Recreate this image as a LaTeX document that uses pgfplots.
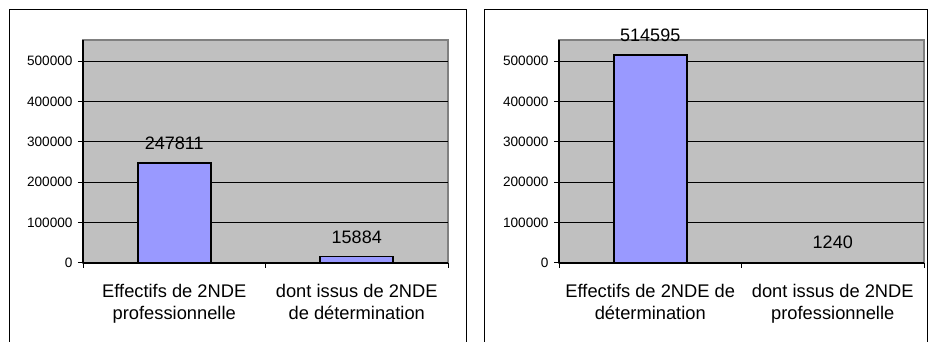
\documentclass[border=0pt]{standalone}
\usepackage{pgfplots}
\pgfplotsset{compat=1.18}
\usepackage{fontspec}
\setmainfont{Liberation Sans}
\definecolor{plotbg}{RGB}{192,192,192}
\definecolor{barfill}{RGB}{153,153,255}
\definecolor{frameg}{RGB}{128,128,128}
\pgfplotsset{
  panel/.style={
    scale only axis, width=365pt, height=223pt,
    anchor=south west,
    xmin=0, xmax=2, ymin=0, ymax=552000,
    axis lines=left, axis line style={-, black, line width=1.2pt},
    axis background/.style={fill=plotbg, draw=frameg, line width=1.5pt},
    ytick={0,100000,200000,300000,400000,500000},
    scaled y ticks=false,
    yticklabel style={font=\fontsize{13.6}{15}\selectfont, xshift=-2pt, /pgf/number format/fixed, /pgf/number format/1000 sep={}},
    /pgf/number format/assume math mode=true,
    ymajorgrids, major grid style={black, line width=0.8pt},
    xtick={0.5,1.5},
    minor xtick={0,1,2},
    major x tick style={draw=none},
    tick align=outside,
    minor tick length=5pt, major tick length=5pt,
    tick style={black, line width=1pt},
    xticklabel style={font=\fontsize{18.3}{21.7}\selectfont, align=center, inner sep=0pt, yshift=-16pt},
    ybar, bar width=0.4, bar shift=0pt,
    nodes near coords, point meta=explicit symbolic,
    nodes near coords style={font=\fontsize{18}{21}\selectfont, anchor=base, yshift=13.5pt, inner sep=0pt, black},
    clip=false,
  }
}
\begin{document}
\begin{tikzpicture}
\useasboundingbox (0,0) rectangle (929pt,342pt);
\draw[black, line width=1pt] (9pt,0pt) -- (9pt,332pt) -- (466pt,332pt) -- (466pt,0pt);
\draw[black, line width=1pt] (484pt,0pt) -- (484pt,332pt) -- (927pt,332pt) -- (927pt,0pt);
\begin{axis}[panel, at={(83pt,79pt)},
  xticklabels={Effectifs de 2NDE\\professionnelle, dont issus de 2NDE\\de détermination}]
\addplot[fill=barfill, draw=black, line width=1.8pt] coordinates {(0.5,247811) [247811] (1.5,15884) [15884]};
\end{axis}
\begin{axis}[panel, at={(559pt,79pt)},
  xticklabels={Effectifs de 2NDE de\\détermination, dont issus de 2NDE\\professionnelle}]
\addplot[fill=barfill, draw=black, line width=1.8pt] coordinates {(0.5,514595) [514595] (1.5,1240) [1240]};
\end{axis}
\end{tikzpicture}
\end{document}
